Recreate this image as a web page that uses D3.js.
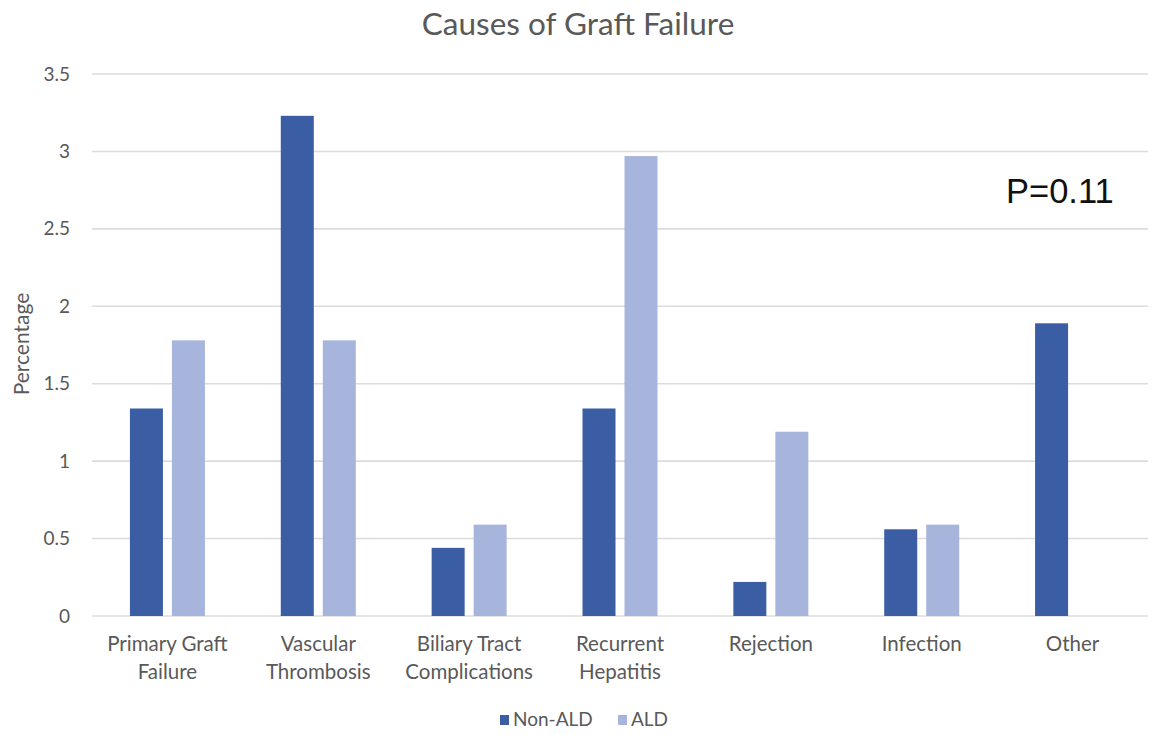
<!DOCTYPE html>
<html>
<head>
<meta charset="utf-8">
<script src="https://cdn.jsdelivr.net/npm/d3@7"></script>
<style>
  html, body { margin: 0; padding: 0; background: #fff; }
  svg { display: block; }
  text { font-family: Lato, "Open Sans", sans-serif; }
</style>
</head>
<body>
<svg id="chart" width="1157" height="735"></svg>
<script>
// Causes of graft failure, percentage by group
const categories = [
  ["Primary Graft", "Failure"],
  ["Vascular", "Thrombosis"],
  ["Biliary Tract", "Complications"],
  ["Recurrent", "Hepatitis"],
  ["Rejection"],
  ["Infection"],
  ["Other"]
];
const seriesNames = ["Non-ALD", "ALD"];
const nonAld = [1.34, 3.23, 0.44, 1.34, 0.22, 0.56, 1.89];
const ald    = [1.78, 1.78, 0.59, 2.97, 1.19, 0.59, 0];
const yTicks = [0, 0.5, 1, 1.5, 2, 2.5, 3, 3.5];
const colors = ["#3a5da4", "#a7b5dc"];
const pValue = "P=0.11";

const svg = d3.select("#chart");
const margin = { top: 74, right: 9, bottom: 119, left: 92 };
const W = 1157, H = 735;
const innerW = W - margin.left - margin.right;
const innerH = H - margin.top - margin.bottom;

const g = svg.append("g").attr("transform", `translate(${margin.left},${margin.top})`);

const x = d3.scaleBand().domain(d3.range(categories.length)).range([0, innerW]).padding(0);
const y = d3.scaleLinear().domain([0, 3.5]).range([innerH, 0]);

// gridlines
g.selectAll("line.grid").data(yTicks).join("line")
  .attr("class", "grid")
  .attr("x1", 0).attr("x2", innerW)
  .attr("y1", d => y(d)).attr("y2", d => y(d))
  .attr("stroke", "#dcdcdc").attr("stroke-width", 1.6);

// y axis labels
const yAxis = d3.axisLeft(y).tickValues(yTicks).tickSize(0).tickPadding(22)
  .tickFormat(d => String(d));
const yG = g.append("g").call(yAxis);
yG.select(".domain").remove();
yG.selectAll("text").attr("fill", "#595959").style("font-size", "19px")
  .style("font-family", "Lato, 'Open Sans', sans-serif");

// bars: two per category, fixed width with a small gap, centred in the band
const barW = 33, gap = 9;
const inner = d3.scaleBand().domain([0, 1])
  .range([x.bandwidth() / 2 - barW - gap / 2, x.bandwidth() / 2 + barW + gap / 2])
  .paddingInner(gap / (barW + gap)).paddingOuter(0);

const rows = categories.map((c, i) => ({ i, vals: [nonAld[i], ald[i]] }));
const grp = g.selectAll("g.cat").data(rows).join("g")
  .attr("class", "cat")
  .attr("transform", d => `translate(${x(d.i)},0)`);
grp.selectAll("rect").data(d => d.vals.map((v, k) => ({ v, k }))).join("rect")
  .attr("x", d => inner(d.k))
  .attr("width", inner.bandwidth())
  .attr("y", d => y(d.v))
  .attr("height", d => y(0) - y(d.v))
  .attr("fill", d => colors[d.k]);

// x category labels
const xl = g.append("g").attr("transform", `translate(0,${innerH})`);
categories.forEach((lines, i) => {
  const t = xl.append("text")
    .attr("x", x(i) + x.bandwidth() / 2)
    .attr("y", 35)
    .attr("text-anchor", "middle")
    .attr("fill", "#595959")
    .style("font-size", "20.5px");
  lines.forEach((ln, j) => {
    t.append("tspan").attr("x", x(i) + x.bandwidth() / 2).attr("dy", j === 0 ? 0 : 27.5).text(ln);
  });
});

// axis title
svg.append("text")
  .attr("transform", `translate(29,${margin.top + innerH / 2 - 1}) rotate(-90)`)
  .attr("text-anchor", "middle")
  .attr("fill", "#595959")
  .style("font-size", "21px")
  .text("Percentage");

// chart title
svg.append("text")
  .attr("x", 578).attr("y", 35)
  .attr("text-anchor", "middle")
  .attr("fill", "#595959")
  .style("font-size", "31.5px")
  .text("Causes of Graft Failure");

// p-value annotation
svg.append("text")
  .attr("x", 1006).attr("y", 203)
  .attr("fill", "#111")
  .style("font-family", "'Liberation Sans', Arial, sans-serif")
  .style("font-size", "34.5px")
  .text(pValue);

// legend
const legend = svg.append("g").attr("transform", "translate(0,720)");
const legendX = [500, 618];
seriesNames.forEach((name, k) => {
  legend.append("rect")
    .attr("x", legendX[k]).attr("y", -5).attr("width", 9).attr("height", 10)
    .attr("fill", colors[k]);
  legend.append("text")
    .attr("x", legendX[k] + 13).attr("y", 6)
    .attr("fill", "#595959")
    .style("font-size", "19px")
    .text(name);
});
</script>
</body>
</html>
